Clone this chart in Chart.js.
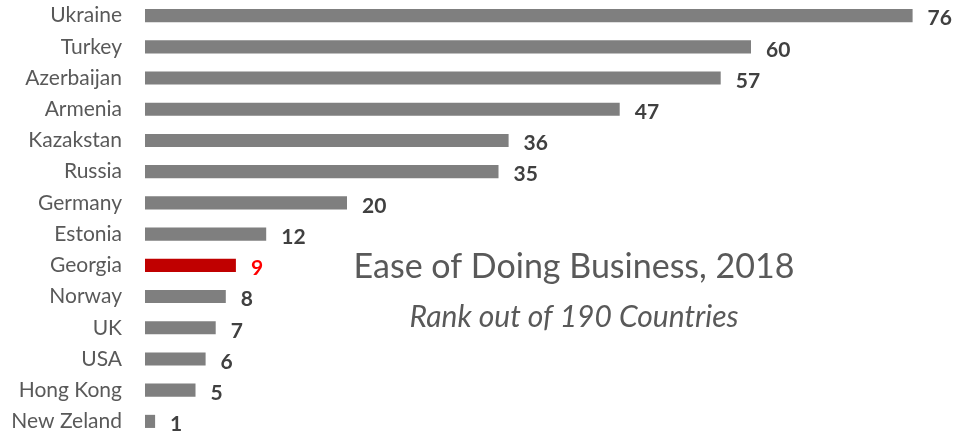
<!DOCTYPE html>
<html>
<head>
<meta charset="utf-8">
<script src="https://cdn.jsdelivr.net/npm/chart.js@4/dist/chart.umd.min.js"></script>
<style>
  html, body { margin: 0; padding: 0; background: #fff; overflow: hidden; }
  #wrap { position: relative; width: 955px; height: 437px; }
</style>
</head>
<body>
<div id="wrap"><canvas id="chart"></canvas></div>
<script>
// data
const countries = ['Ukraine', 'Turkey', 'Azerbaijan', 'Armenia', 'Kazakstan', 'Russia', 'Germany',
  'Estonia', 'Georgia', 'Norway', 'UK', 'USA', 'Hong Kong', 'New Zeland'];
const ranks = [76, 60, 57, 47, 36, 35, 20, 12, 9, 8, 7, 6, 5, 1];
const highlight = 'Georgia';
const titleText = 'Ease of Doing Business, 2018';
const subtitleText = 'Rank out of 190 Countries';

const FONT = 'Lato, "Open Sans", sans-serif';
const barColors = countries.map(c => c === highlight ? '#c00000' : '#7f7f7f');

// value labels at the end of each bar + the caption in the middle
const labelsPlugin = {
  id: 'barLabels',
  afterDatasetsDraw(chart) {
    const ctx = chart.ctx;
    const meta = chart.getDatasetMeta(0);
    ctx.save();
    ctx.font = 'bold 21px ' + FONT;
    ctx.textBaseline = 'middle';
    ctx.textAlign = 'left';
    meta.data.forEach((bar, i) => {
      ctx.fillStyle = countries[i] === highlight ? '#ff0000' : '#404040';
      ctx.fillText(String(ranks[i]), bar.x + 15, bar.y + 3);
    });
    ctx.fillStyle = '#595959';
    ctx.textAlign = 'center';
    ctx.font = '34px ' + FONT;
    ctx.fillText(titleText, 574, 267);
    ctx.font = 'italic 30px ' + FONT;
    ctx.fillText(subtitleText, 574, 317);
    ctx.restore();
  }
};

new Chart(document.getElementById('chart'), {
  type: 'bar',
  data: {
    labels: countries,
    datasets: [{
      data: ranks,
      backgroundColor: barColors,
      barPercentage: 0.84,
      categoryPercentage: 0.5
    }]
  },
  options: {
    indexAxis: 'y',
    responsive: true,
    maintainAspectRatio: false,
    animation: false,
    layout: { padding: { top: 0, right: 2, bottom: 0, left: 0 } },
    plugins: { legend: { display: false }, tooltip: { enabled: false }, title: { display: false } },
    scales: {
      x: {
        min: 0, max: 80,
        display: false
      },
      y: {
        grid: { display: false, drawTicks: false },
        border: { display: false },
        ticks: {
          padding: 23,
          color: '#595959',
          font: { family: FONT, size: 21 }
        },
        afterFit(scale) {
          scale.width = 145;
          scale.paddingTop = 0;
          scale.paddingBottom = 0;
        }
      }
    }
  },
  plugins: [labelsPlugin]
});
</script>
</body>
</html>
